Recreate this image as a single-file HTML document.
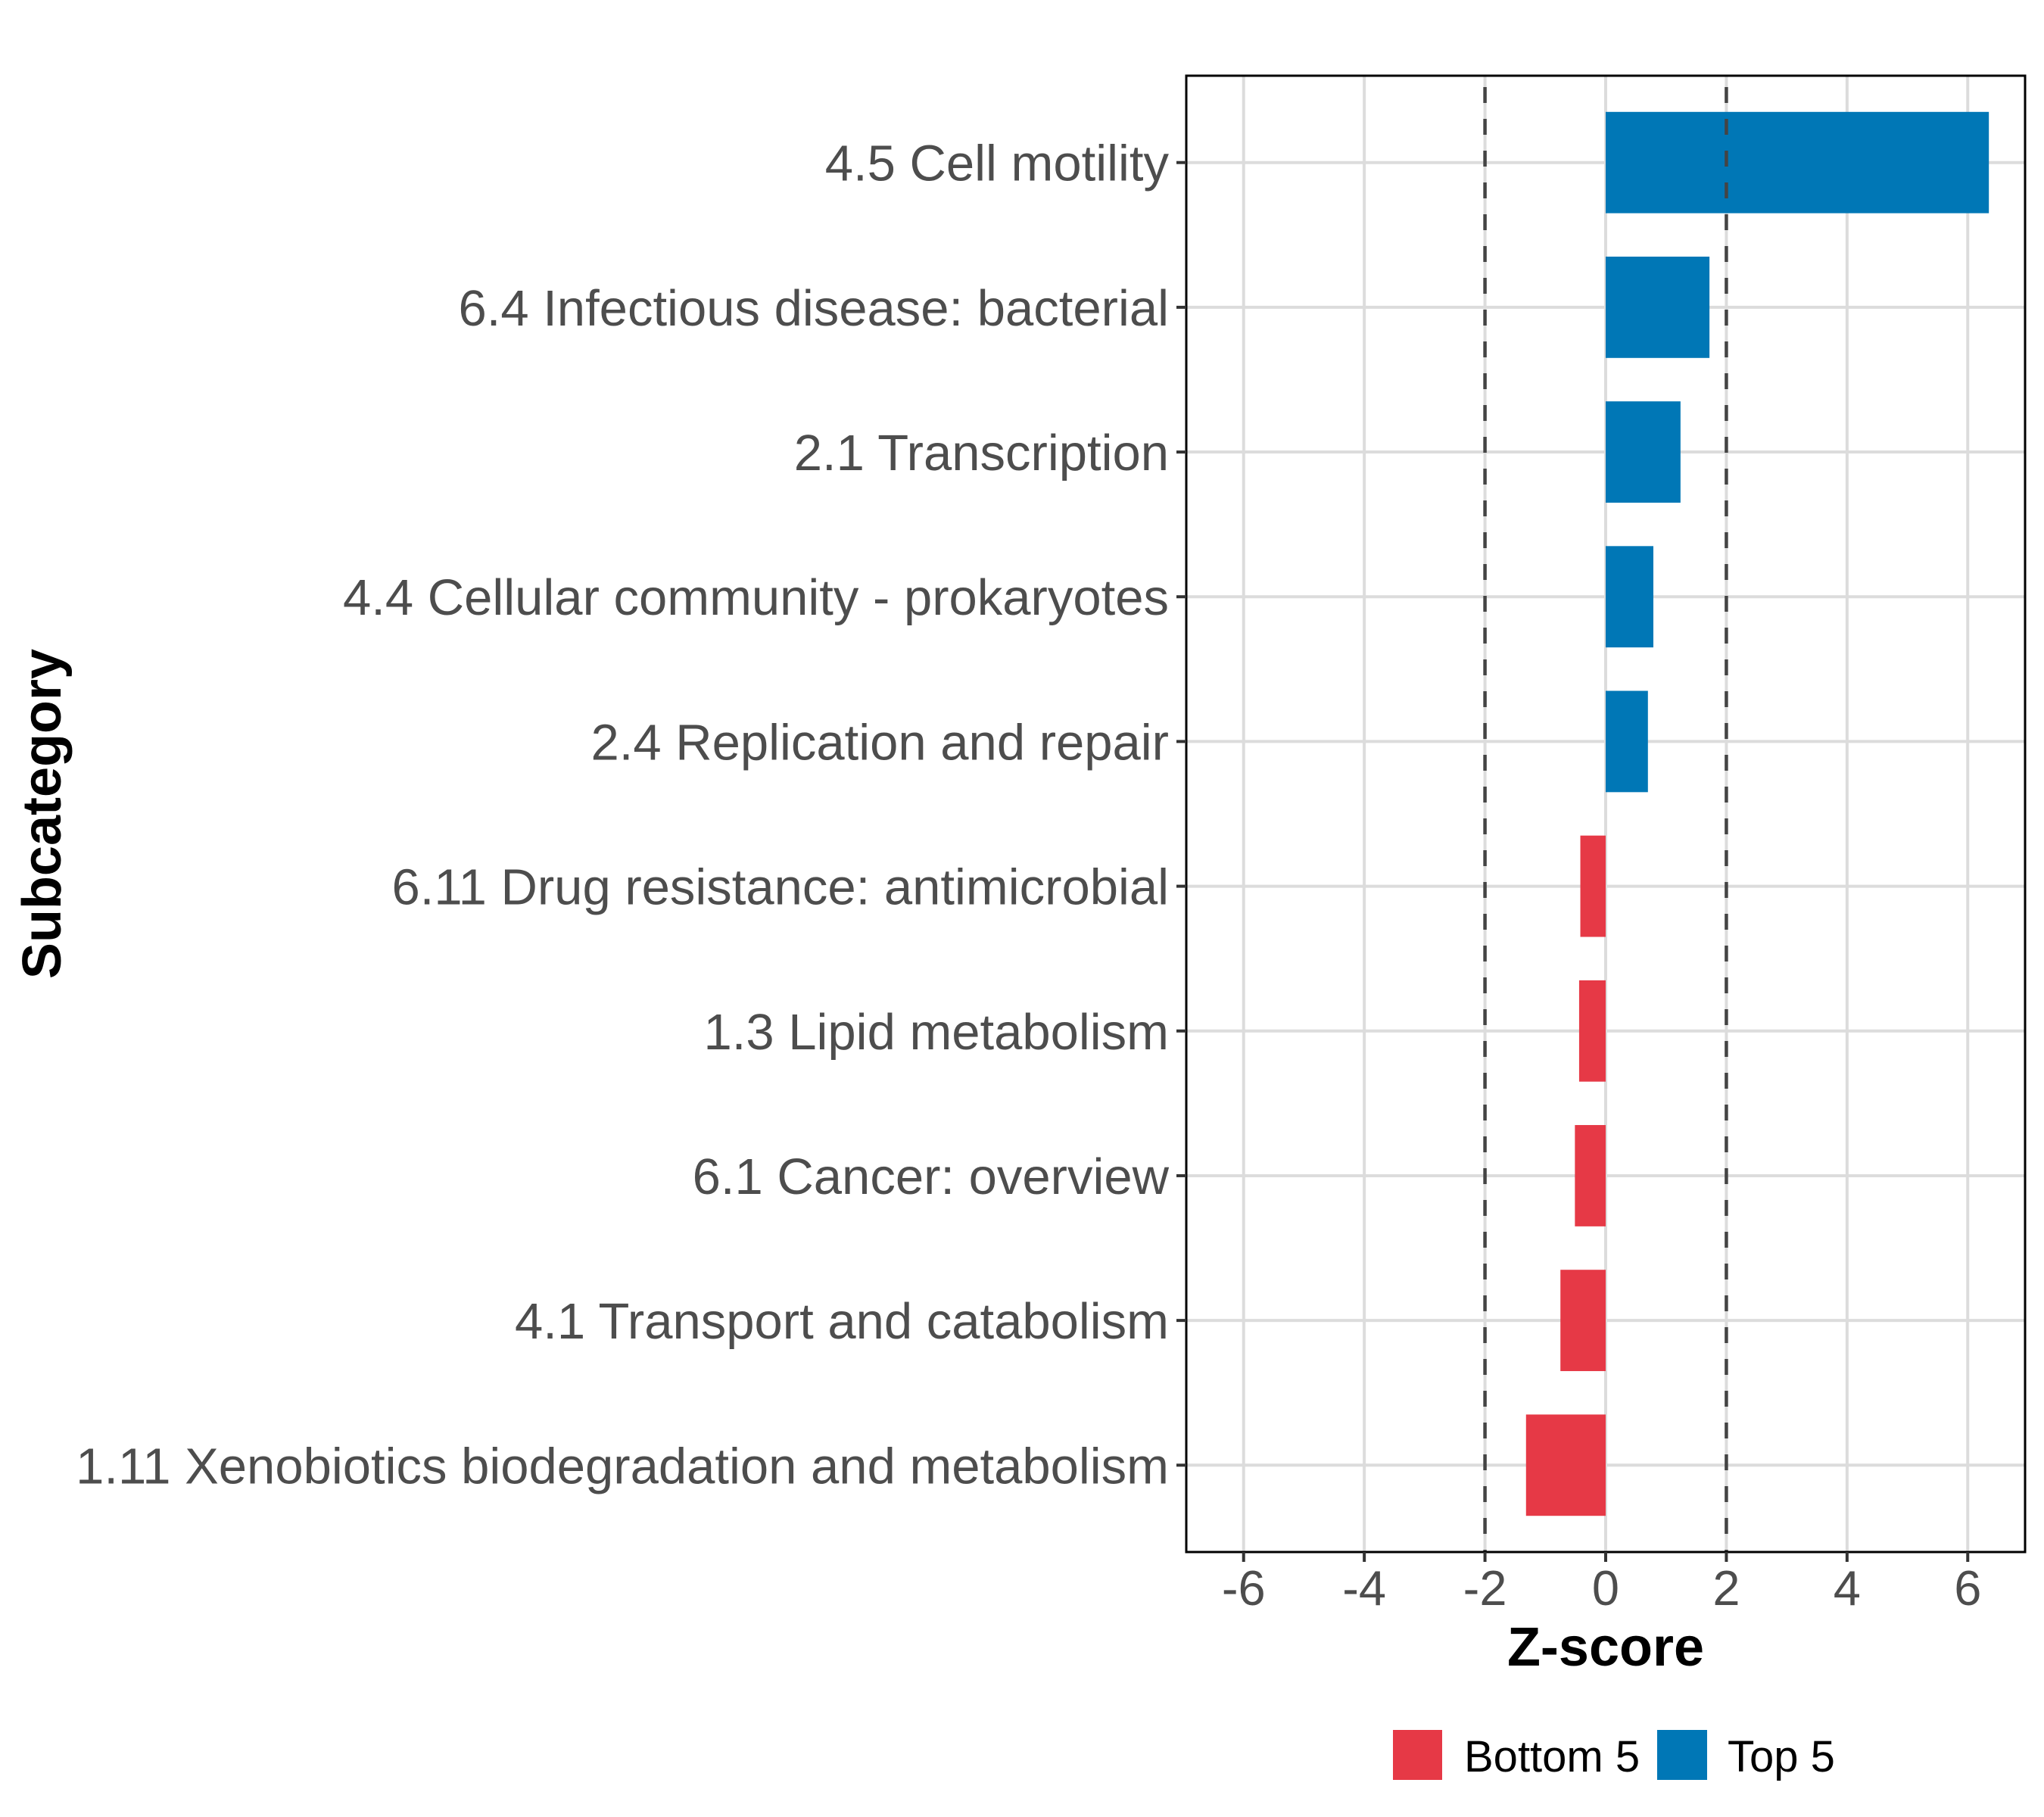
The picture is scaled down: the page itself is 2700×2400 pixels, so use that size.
<!DOCTYPE html>
<html><head><meta charset="utf-8"><style>
html,body{margin:0;padding:0;background:#fff;}
svg{display:block;font-family:"Liberation Sans",Arial,sans-serif;}
</style></head><body>
<svg id="chart" width="2700" height="2400" viewBox="0 0 2700 2400">
<rect x="0" y="0" width="2700" height="2400" fill="#fff"/>
<g id="grid"></g>
<g id="bars"></g>
<g id="refs"></g>
<rect x="1567" y="100" width="1108" height="1950" fill="none" stroke="#000" stroke-width="3"/>
<g id="yaxis"></g>
<g id="xaxis"></g>
<text x="2121" y="2200" text-anchor="middle" font-size="72" font-weight="bold" fill="#000">Z-score</text>
<text transform="translate(80,1075) rotate(-90)" text-anchor="middle" font-size="72" font-weight="bold" fill="#000">Subcategory</text>
<g>
<g>
<rect x="1840" y="2285" width="65" height="66" fill="#E63946"/>
<text x="1934" y="2340" font-size="58" fill="#000">Bottom 5</text>
</g>
<g>
<rect x="2189" y="2285" width="66" height="66" fill="#0077B6"/>
<text x="2282" y="2340" font-size="58" fill="#000">Top 5</text>
</g>
</g>
</svg>
<script>
const categories = ["4.5 Cell motility","6.4 Infectious disease: bacterial","2.1 Transcription","4.4 Cellular community - prokaryotes","2.4 Replication and repair","6.11 Drug resistance: antimicrobial","1.3 Lipid metabolism","6.1 Cancer: overview","4.1 Transport and catabolism","1.11 Xenobiotics biodegradation and metabolism"];
const zscores = [6.35, 1.72, 1.24, 0.79, 0.70, -0.42, -0.44, -0.51, -0.75, -1.32];
const groups = ["Top 5","Top 5","Top 5","Top 5","Top 5","Bottom 5","Bottom 5","Bottom 5","Bottom 5","Bottom 5"];
const xTicks = [-6, -4, -2, 0, 2, 4, 6];
const refLines = [-2, 2];

const NS = "http://www.w3.org/2000/svg";
const PL = 1567, PR = 2675, PT = 100, PB = 2050;
const XMIN = -6.95, XMAX = 6.95;
const colors = {"Top 5": "#0077B6", "Bottom 5": "#E63946"};
function xs(v){ return PL + (v - XMIN) / (XMAX - XMIN) * (PR - PL); }
const n = categories.length;
const step = (PB - PT) / (n - 1 + 1.2);
function ys(i){ return PT + (0.6 + i) * step; }
function mk(tag, attrs, parent){ const e = document.createElementNS(NS, tag); for (const k in attrs) e.setAttribute(k, attrs[k]); parent.appendChild(e); return e; }

const grid = document.getElementById("grid");
const bars = document.getElementById("bars");
const refs = document.getElementById("refs");
const yaxis = document.getElementById("yaxis");
const xaxis = document.getElementById("xaxis");

xTicks.forEach(t => {
  const l = mk("line", {x1: xs(t), x2: xs(t), y1: PT, y2: PB, stroke: "#dcdcdc", "stroke-width": 4}, grid);
  
  
  const tk = mk("line", {x1: xs(t), x2: xs(t), y1: PB, y2: PB + 13, stroke: "#333", "stroke-width": 4}, xaxis);
  
  
  const tx = mk("text", {x: xs(t), y: 2120, "text-anchor": "middle", "font-size": 65, fill: "#4d4d4d"}, xaxis);
  tx.textContent = String(t);
  
  
});

categories.forEach((c, i) => {
  const y = ys(i);
  const g = mk("line", {x1: PL, x2: PR, y1: y, y2: y, stroke: "#dcdcdc", "stroke-width": 4}, grid);
  
  
  const v = zscores[i];
  const h = step * 0.7;
  const b = mk("rect", {x: Math.min(xs(0), xs(v)), y: y - h / 2, width: Math.abs(xs(v) - xs(0)), height: h, fill: colors[groups[i]]}, bars);
  
  
  const tk = mk("line", {x1: PL - 13, x2: PL, y1: y, y2: y, stroke: "#333", "stroke-width": 4}, yaxis);
  
  
  const tx = mk("text", {x: 1544, y: y + 24, "text-anchor": "end", "font-size": 67, fill: "#4d4d4d"}, yaxis);
  tx.textContent = c;
  
  
});

refLines.forEach(r => {
  const l = mk("line", {x1: xs(r), x2: xs(r), y1: PT, y2: PB, stroke: "#444", "stroke-width": 4.5, "stroke-dasharray": "21 21", "stroke-dashoffset": "-15"}, refs);
  
  
});
</script>
</body></html>
